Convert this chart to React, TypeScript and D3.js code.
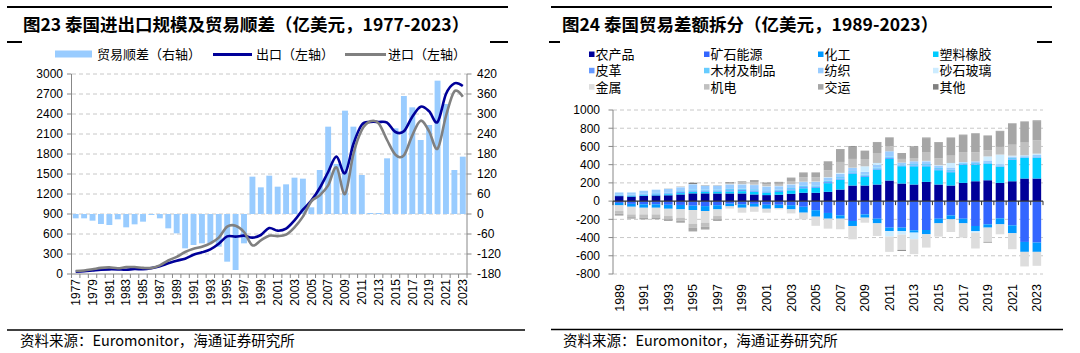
import React from 'react';
import * as d3 from 'd3';

// ---------- Left chart data (亿美元) ----------
const yearsL = ['1977','1978','1979','1980','1981','1982','1983','1984','1985','1986','1987','1988','1989','1990','1991','1992','1993','1994','1995','1996','1997','1998','1999','2000','2001','2002','2003','2004','2005','2006','2007','2008','2009','2010','2011','2012','2013','2014','2015','2016','2017','2018','2019','2020','2021','2022','2023'];
const tradeBalance = [-13,-13,-20,-30,-33,-16,-40,-31,-23,-3,-13,-43,-58,-103,-93,-88,-88,-98,-143,-168,-88,112,80,115,82,89,109,106,20,132,262,150,310,262,117,3,3,167,257,354,320,222,267,400,330,132,172];
const exportsL = [35,41,53,65,70,69,64,74,71,88,117,160,200,230,288,325,370,455,565,560,575,545,585,690,650,680,805,965,1100,1290,1530,1760,1510,1950,2240,2280,2280,2270,2130,2140,2360,2510,2440,2280,2700,2860,2820];
const importsL = [46,53,71,92,99,86,103,104,92,91,130,203,258,330,378,410,460,545,710,725,630,430,505,575,568,590,700,860,1090,1180,1330,1600,1200,1800,2160,2290,2260,2010,1790,1780,2080,2300,2140,1880,2370,2740,2660];
const leftTicks = [0,300,600,900,1200,1500,1800,2100,2400,2700,3000];
const rightTicks = [-180,-120,-60,0,60,120,180,240,300,360,420];
const legendL = ['贸易顺差（右轴）','出口（左轴）','进口（左轴）'];

// ---------- Right chart data (亿美元) ----------
const yearsR = ['1989','1990','1991','1992','1993','1994','1995','1996','1997','1998','1999','2000','2001','2002','2003','2004','2005','2006','2007','2008','2009','2010','2011','2012','2013','2014','2015','2016','2017','2018','2019','2020','2021','2022','2023'];
const seriesNames = ['农产品','矿石能源','化工','塑料橡胶','皮革','木材及制品','纺织','砂石玻璃','金属','机电','交运','其他'];
const seriesColors = ['#000099','#3366FF','#0099FF','#00CCFF','#6699FF','#66CCFF','#99CCFF','#CCECFF','#DDDDDD','#C0C0C0','#A6A6A6','#808080'];
const agri    = [55,50,57,62,64,73,85,85,84,84,84,73,66,70,80,91,91,102,127,171,171,182,226,193,182,211,182,171,200,218,229,200,218,248,248];
const mineral = [-20,-30,-35,-35,-40,-42,-50,-55,-45,-28,-35,-30,-40,-40,-45,-62,-100,-130,-156,-218,-146,-193,-291,-291,-320,-317,-193,-157,-193,-273,-255,-189,-266,-448,-455];
const chem    = [-27,-32,-38,-38,-44,-49,-48,-54,-46,-30,-38,-32,-44,-38,-46,-65,-71,-63,-37,-55,-36,-51,-37,-37,-26,-47,-51,-43,-51,-55,-36,-66,-87,-109,-102];
const plastic = [5,6,8,10,12,15,18,18,20,22,25,30,28,30,38,50,55,95,109,131,95,164,237,190,200,171,157,146,200,182,182,175,237,226,226];
const leather = [5,6,8,10,10,12,14,12,12,14,14,14,12,12,12,13,12,12,12,12,12,10,12,8,10,10,10,10,6,6,5,5,6,5,6];
const wood    = [8,8,8,8,9,10,12,12,12,14,14,14,13,13,14,15,14,14,16,15,14,13,15,12,15,15,15,16,10,12,10,12,14,10,12];
const textile = [22,25,32,35,38,42,55,40,40,48,45,45,40,38,38,40,38,35,36,35,30,30,57,20,30,30,26,26,10,18,20,14,14,11,14];
const stone   = [2,2,2,2,2,3,3,3,3,4,4,4,4,4,4,4,5,5,10,3,60,20,-61,-40,-73,5,5,50,3,-18,45,105,10,3,15];
const metal   = [-62,-84,-73,-73,-80,-91,-150,-128,-73,-24,-54,-55,-43,-12,-44,-73,-100,-109,-116,-146,-55,-138,-168,-168,-163,-146,-146,-139,-156,-174,-157,-109,-175,-160,-153];
const machine = [-30,-30,-35,-33,-34,-35,-45,-45,-34,10,20,30,20,22,35,50,45,75,120,96,80,109,55,40,36,91,73,80,109,99,66,84,120,139,146];
const transport = [-20,-17,-20,-20,-20,-20,-40,-30,-20,2,5,15,15,18,32,45,50,95,135,132,88,116,91,65,120,157,175,193,186,204,164,171,229,226,208];
const others  = [0,0,0,0,2,3,15,4,3,8,5,6,5,4,4,5,4,4,6,8,3,5,5,-10,7,7,5,5,5,5,-7,5,5,5,10];
const seriesValues = [agri,mineral,chem,plastic,leather,wood,textile,stone,metal,machine,transport,others];
const rTicks = [-800,-600,-400,-200,0,200,400,600,800,1000];

const NUM = "'Liberation Sans', Arial, sans-serif";
const CJK = "'Noto Sans CJK SC', 'Liberation Sans', sans-serif";
const LEG = "'Liberation Sans', 'Noto Sans CJK SC', sans-serif";

export default function App() {
  // ----- left chart scales -----
  const xL = d3.scaleBand<string>().domain(yearsL).range([71.5, 467]).paddingInner(0.3).paddingOuter(0.15);
  const yL = d3.scaleLinear().domain([0, 3000]).range([274, 74]);
  const yR = d3.scaleLinear().domain([-180, 420]).range([274, 74]);
  const cxL = (y: string) => (xL(y) as number) + xL.bandwidth() / 2;
  const line = d3.line<number>().x((_d, i) => cxL(yearsL[i])).y(d => yL(d)).curve(d3.curveCardinal.tension(0));
  const stepL = xL.step();

  // ----- right chart scales -----
  const xR = d3.scaleBand<string>().domain(yearsR).range([613, 1043]).paddingInner(0.3).paddingOuter(0.15);
  const yS = d3.scaleLinear().domain([-800, 1000]).range([274, 110]);
  const stepR = xR.step();
  const rows = yearsR.map((y, i) => {
    const r: any = { year: y };
    seriesNames.forEach((n, k) => { r[n] = seriesValues[k][i]; });
    return r;
  });
  const stacked = d3.stack<any>().keys(seriesNames).offset(d3.stackOffsetDiverging)(rows);

  return (
    <svg width={1080} height={353} style={{ position: 'absolute', left: 0, top: 0, background: '#fff' }}>
      <rect x={0} y={0} width={1080} height={353} fill="#fff" />
      {/* ================= LEFT ================= */}
      <line x1={7} x2={508} y1={7} y2={7} stroke="#000" strokeWidth={2} />
      <text x={23} y={31} fontFamily={CJK} fontWeight={700} fontSize={17.5} fill="#000">图23 泰国进出口规模及贸易顺差（亿美元，1977-2023）</text>
      <line x1={7} x2={22} y1={42} y2={42} stroke="#000" strokeWidth={2} />
      <line x1={490} x2={508} y1={42} y2={42} stroke="#000" strokeWidth={2} />
      {/* legend */}
      <rect x={55} y={50.5} width={37} height={7} fill="#99CCFF" />
      <text x={97} y={58.5} fontFamily={CJK} fontSize={13} fill="#000">{legendL[0]}</text>
      <line x1={213} x2={252} y1={54.5} y2={54.5} stroke="#000099" strokeWidth={3} />
      <text x={256} y={58.5} fontFamily={CJK} fontSize={13} fill="#000">{legendL[1]}</text>
      <line x1={345} x2={386} y1={54.5} y2={54.5} stroke="#808080" strokeWidth={3} />
      <text x={388} y={58.5} fontFamily={CJK} fontSize={13} fill="#000">{legendL[2]}</text>
      {/* grid */}
      {leftTicks.filter(t => t > 0).map(t => (
        <line key={'gl' + t} x1={72} x2={467} y1={yL(t)} y2={yL(t)} stroke="#c8c8c8" strokeDasharray="4,3" />
      ))}
      {/* bars */}
      {tradeBalance.map((v, i) => (
        <rect key={'b' + i} x={xL(yearsL[i])} width={xL.bandwidth()} y={Math.min(yR(v), yR(0))} height={Math.abs(yR(v) - yR(0))} fill="#99CCFF" />
      ))}
      {/* lines */}
      <path d={line(exportsL) || ''} fill="none" stroke="#000099" strokeWidth={2.6} />
      <path d={line(importsL) || ''} fill="none" stroke="#808080" strokeWidth={2.6} />
      {/* axes */}
      <line x1={71.5} x2={71.5} y1={74} y2={274} stroke="#888" />
      {leftTicks.map(t => (
        <g key={'lt' + t}>
          <line x1={67} x2={71.5} y1={yL(t)} y2={yL(t)} stroke="#888" />
          <text x={63} y={yL(t) + 4.3} textAnchor="end" fontFamily={NUM} fontSize={12} fill="#000">{t}</text>
        </g>
      ))}
      <line x1={467} x2={467} y1={74} y2={274} stroke="#888" />
      {rightTicks.map(t => (
        <g key={'rt' + t}>
          <line x1={467} x2={471.5} y1={yR(t)} y2={yR(t)} stroke="#888" />
          <text x={477} y={yR(t) + 4.3} textAnchor="start" fontFamily={NUM} fontSize={12} fill="#000">{t}</text>
        </g>
      ))}
      <line x1={71.5} x2={467} y1={274} y2={274} stroke="#888" />
      {yearsL.map((y, i) => (
        <line key={'xt' + i} x1={71.5 + i * stepL} x2={71.5 + i * stepL} y1={274} y2={278} stroke="#888" />
      ))}
      <line x1={467} x2={467} y1={274} y2={278} stroke="#888" />
      {yearsL.filter((_y, i) => i % 2 === 0).map(y => (
        <text key={'xl' + y} transform={`translate(${cxL(y) + 4.3},279) rotate(-90)`} textAnchor="end" fontFamily={NUM} fontSize={12} fill="#000">{y}</text>
      ))}
      <line x1={7} x2={525} y1={330} y2={330} stroke="#000" strokeWidth={1.5} />
      <text x={20} y={346} fontFamily={CJK} fontSize={14.5} fill="#000">资料来源：Euromonitor，海通证券研究所</text>

      {/* ================= RIGHT ================= */}
      <line x1={551} x2={1052} y1={7} y2={7} stroke="#000" strokeWidth={2} />
      <text x={562} y={31} fontFamily={CJK} fontWeight={700} fontSize={17.5} fill="#000">图24 泰国贸易差额拆分（亿美元，1989-2023）</text>
      <line x1={549} x2={560} y1={42} y2={42} stroke="#000" strokeWidth={2} />
      <line x1={1037} x2={1052} y1={42} y2={42} stroke="#000" strokeWidth={2} />
      {/* legend */}
      {seriesNames.map((n, i) => {
        const cols = [589, 704, 818, 933];
        const rowsY = [54.5, 70.8, 87.1];
        const x = cols[i % 4];
        const y = rowsY[Math.floor(i / 4)];
        return (
          <g key={'lg' + n}>
            <rect x={x} y={y - 3} width={5.5} height={5.5} fill={seriesColors[i]} />
            <text x={x + 6.5} y={y + 4.6} fontFamily={LEG} fontSize={13} fill="#000">{n}</text>
          </g>
        );
      })}
      {/* grid */}
      {rTicks.filter(t => t !== 0).map(t => (
        <line key={'gr' + t} x1={613} x2={1043} y1={yS(t)} y2={yS(t)} stroke="#c8c8c8" strokeDasharray="4,3" />
      ))}
      {/* stacked bars */}
      {stacked.map((s, k) => (
        <g key={'s' + k} fill={seriesColors[k]}>
          {s.map((d, i) => {
            const y0 = yS(d[0]);
            const y1 = yS(d[1]);
            const h = Math.abs(y0 - y1);
            if (h <= 0) return null;
            return <rect key={i} x={xR(yearsR[i])} width={xR.bandwidth()} y={Math.min(y0, y1)} height={h} />;
          })}
        </g>
      ))}
      {/* axes */}
      <line x1={613} x2={613} y1={110} y2={274} stroke="#888" />
      {rTicks.map(t => (
        <g key={'ry' + t}>
          <line x1={608.5} x2={613} y1={yS(t)} y2={yS(t)} stroke="#888" />
          <text x={600} y={yS(t) + 4.3} textAnchor="end" fontFamily={NUM} fontSize={12} fill="#000">{t}</text>
        </g>
      ))}
      <line x1={613} x2={1043} y1={yS(0)} y2={yS(0)} stroke="#333" strokeWidth={1.2} />
      {yearsR.map((y, i) => (
        <line key={'rx' + i} x1={613 + i * stepR} x2={613 + i * stepR} y1={yS(0)} y2={yS(0) + 4} stroke="#333" />
      ))}
      <line x1={1043} x2={1043} y1={yS(0)} y2={yS(0) + 4} stroke="#333" />
      {yearsR.filter((_y, i) => i % 2 === 0).map(y => (
        <text key={'rl' + y} transform={`translate(${(xR(y) as number) + xR.bandwidth() / 2 + 4.4},284) rotate(-90)`} textAnchor="end" fontFamily={NUM} fontSize={12.5} fill="#000">{y}</text>
      ))}
      <line x1={551} x2={1063} y1={329.5} y2={329.5} stroke="#000" strokeWidth={1.5} />
      <text x={563} y={346} fontFamily={CJK} fontSize={14.5} fill="#000">资料来源：Euromonitor，海通证券研究所</text>
    </svg>
  );
}
